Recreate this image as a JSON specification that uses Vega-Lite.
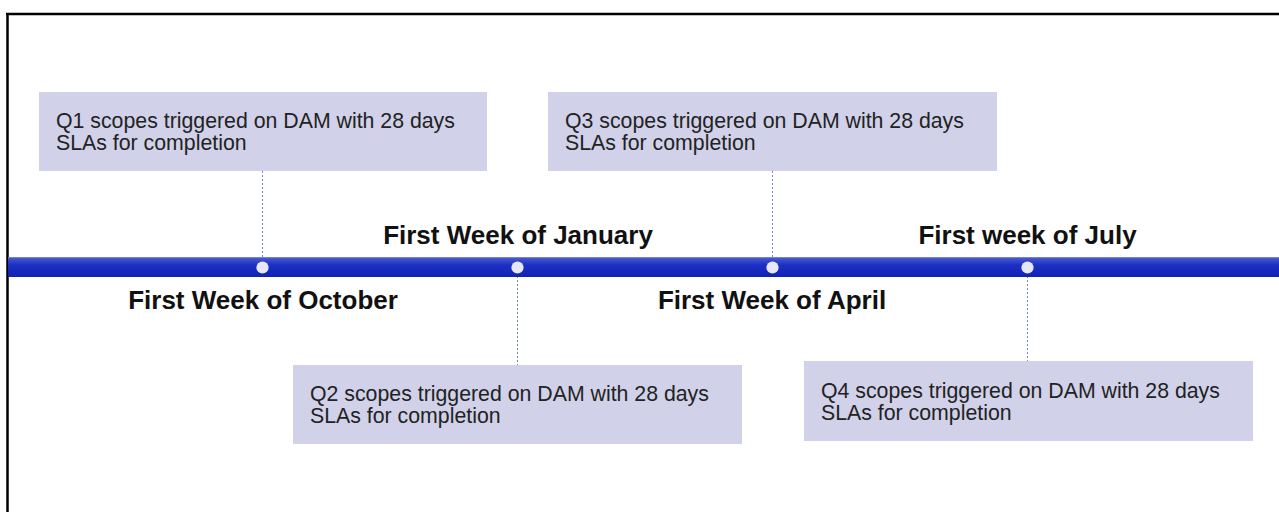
{
  "$schema": "https://vega.github.io/schema/vega-lite/v6.json",
  "width": 1279,
  "height": 512,
  "autosize": "none",
  "padding": 0,
  "background": "white",
  "config": {"view": {"stroke": null}},
  "datasets": {
    "border": [
      {"x": 6, "x2": 1279, "y": 14, "y2": 14},
      {"x": 7.5, "x2": 7.5, "y": 13, "y2": 512}
    ],
    "boxes": [
      {"q": "Q1", "x": 39, "x2": 487, "y": 92, "y2": 171},
      {"q": "Q2", "x": 293, "x2": 742, "y": 365, "y2": 444},
      {"q": "Q3", "x": 548, "x2": 997, "y": 92, "y2": 171},
      {"q": "Q4", "x": 804, "x2": 1253, "y": 361, "y2": 441}
    ],
    "bar": [{"x": 8, "x2": 1279, "y": 257, "y2": 277}],
    "stems": [
      {"x": 262.5, "y": 171, "y2": 262},
      {"x": 517.5, "y": 272, "y2": 365},
      {"x": 772.5, "y": 171, "y2": 262},
      {"x": 1027.5, "y": 272, "y2": 361}
    ],
    "dots": [
      {"x": 262.5, "y": 267.5},
      {"x": 517.5, "y": 267.5},
      {"x": 772.5, "y": 267.5},
      {"x": 1027.5, "y": 267.5}
    ],
    "labels": [
      {"x": 263, "y": 300.5, "t": "First Week of October"},
      {"x": 518, "y": 236, "t": "First Week of January"},
      {"x": 772, "y": 300.5, "t": "First Week of April"},
      {"x": 1027.5, "y": 236, "t": "First week of July"}
    ],
    "boxtext": [
      {"x": 56, "y": 121.5, "t": "Q1 scopes triggered on DAM with 28 days"},
      {"x": 56, "y": 143.5, "t": "SLAs for completion"},
      {"x": 310, "y": 394.5, "t": "Q2 scopes triggered on DAM with 28 days"},
      {"x": 310, "y": 416.5, "t": "SLAs for completion"},
      {"x": 565, "y": 121.5, "t": "Q3 scopes triggered on DAM with 28 days"},
      {"x": 565, "y": 143.5, "t": "SLAs for completion"},
      {"x": 821, "y": 391.5, "t": "Q4 scopes triggered on DAM with 28 days"},
      {"x": 821, "y": 413.5, "t": "SLAs for completion"}
    ]
  },
  "resolve": {"scale": {"x": "shared", "y": "shared"}},
  "layer": [
    {
      "data": {"name": "boxes"},
      "mark": {"type": "rect", "color": "#d1d2e9"},
      "encoding": {
        "x": {"field": "x", "type": "quantitative", "scale": {"domain": [0, 1279], "nice": false, "zero": false}, "axis": null},
        "x2": {"field": "x2"},
        "y": {"field": "y", "type": "quantitative", "scale": {"domain": [512, 0], "nice": false, "zero": false}, "axis": null},
        "y2": {"field": "y2"}
      }
    },
    {
      "data": {"name": "border"},
      "mark": {"type": "rule", "color": "black", "strokeWidth": 2.5},
      "encoding": {
        "x": {"field": "x", "type": "quantitative"},
        "x2": {"field": "x2"},
        "y": {"field": "y", "type": "quantitative"},
        "y2": {"field": "y2"}
      }
    },
    {
      "data": {"name": "stems"},
      "mark": {"type": "rule", "color": "#7484dc", "strokeWidth": 1, "strokeDash": [2, 2]},
      "encoding": {
        "x": {"field": "x", "type": "quantitative"},
        "y": {"field": "y", "type": "quantitative"},
        "y2": {"field": "y2"}
      }
    },
    {
      "data": {"name": "bar"},
      "mark": {
        "type": "rect",
        "color": {
          "gradient": "linear", "x1": 0, "y1": 0, "x2": 0, "y2": 1,
          "stops": [
            {"offset": 0, "color": "#8c96dc"},
            {"offset": 0.08, "color": "#4454cc"},
            {"offset": 0.4, "color": "#1c30c4"},
            {"offset": 1, "color": "#0f22b4"}
          ]
        }
      },
      "encoding": {
        "x": {"field": "x", "type": "quantitative"},
        "x2": {"field": "x2"},
        "y": {"field": "y", "type": "quantitative"},
        "y2": {"field": "y2"}
      }
    },
    {
      "data": {"name": "dots"},
      "mark": {"type": "point", "filled": true, "size": 150, "color": "#e6e7f8", "opacity": 1},
      "encoding": {
        "x": {"field": "x", "type": "quantitative"},
        "y": {"field": "y", "type": "quantitative"}
      }
    },
    {
      "data": {"name": "labels"},
      "mark": {"type": "text", "font": "Liberation Sans", "fontWeight": "bold", "fontSize": 26, "color": "#111111", "align": "center", "baseline": "middle"},
      "encoding": {
        "x": {"field": "x", "type": "quantitative"},
        "y": {"field": "y", "type": "quantitative"},
        "text": {"field": "t"}
      }
    },
    {
      "data": {"name": "boxtext"},
      "mark": {"type": "text", "font": "Liberation Sans", "fontSize": 21.3, "color": "#222222", "align": "left", "baseline": "middle"},
      "encoding": {
        "x": {"field": "x", "type": "quantitative"},
        "y": {"field": "y", "type": "quantitative"},
        "text": {"field": "t"}
      }
    }
  ]
}
